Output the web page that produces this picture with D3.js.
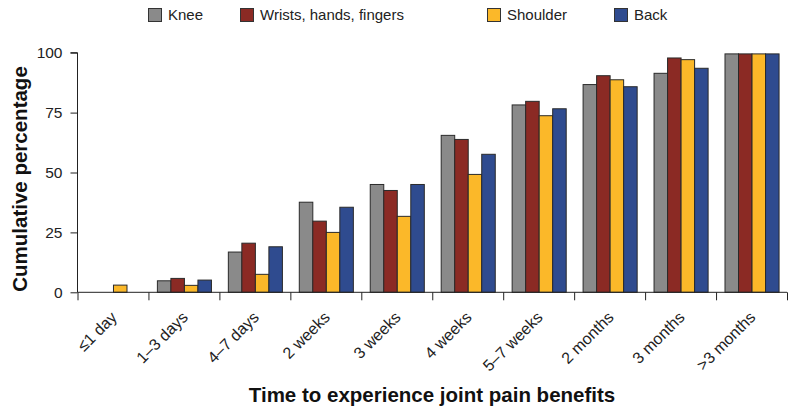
<!DOCTYPE html>
<html><head><meta charset="utf-8">
<script src="https://cdn.jsdelivr.net/npm/d3@7"></script>
<style>body{margin:0;background:#fff}svg{display:block}text{font-family:"Liberation Sans",Arial,sans-serif}</style>
</head><body>
<svg id="c" width="796" height="414"></svg>
<script>
const categories = ["\u22641 day","1\u20133 days","4\u20137 days","2 weeks","3 weeks","4 weeks","5\u20137 weeks","2 months","3 months",">3 months"];
const seriesNames = ["Knee","Wrists, hands, fingers","Shoulder","Back"];
const knee     = [0, 4.8, 16.8, 37.6, 45.0, 65.5, 78.2, 86.7, 91.4, 99.5];
const wrists   = [0, 5.8, 20.5, 29.7, 42.5, 63.8, 79.7, 90.4, 97.8, 99.5];
const shoulder = [3.0, 2.9, 7.5, 25.0, 31.7, 49.2, 73.7, 88.7, 97.1, 99.5];
const back     = [0, 5.1, 19.0, 35.5, 45.0, 57.6, 76.6, 85.8, 93.5, 99.5];
const yTicks = [0, 25, 50, 75, 100];
const colors = ["#8a8a8a", "#8b2a24", "#fbb829", "#2f4b8f"];

const series = [knee, wrists, shoulder, back];
const svg = d3.select("#c");
const L = 77.5, R = 787, T = 52.7, B = 292.3;

const x = d3.scaleBand().domain(categories).range([L, R]).paddingInner(0.238).paddingOuter(0.119);
const xb = d3.scaleLinear().domain([0, categories.length]).range([L, R]);
const x1 = d3.scaleBand().domain(d3.range(series.length)).range([0, x.bandwidth()]);
const y = d3.scaleLinear().domain([0, 100]).range([B, T]);

// bars
categories.forEach((c, i) => {
  const g = svg.append("g").attr("transform", `translate(${x(c)},0)`);
  series.forEach((s, k) => {
    if (s[i] <= 0) return;
    g.append("rect")
      .attr("x", x1(k) + 0.5).attr("y", y(s[i]))
      .attr("width", x1.bandwidth()).attr("height", B - y(s[i]))
      .attr("fill", colors[k]).attr("stroke", "#2a2a2a").attr("stroke-width", 1);
  });
});

// y axis
const ya = svg.append("g").attr("transform", `translate(${L},0)`)
  .call(d3.axisLeft(y).tickValues(yTicks).tickSize(7).tickPadding(8));
ya.select(".domain").attr("stroke", "#222").attr("d", `M-7,${y(100)}H0V${B}`);
ya.selectAll(".tick line").attr("stroke", "#222");
ya.selectAll(".tick text").attr("font-size", 15.5).attr("fill", "#222").attr("font-family", "Liberation Sans, Arial, sans-serif");

// x axis (ticks at category boundaries)
const xa = svg.append("g").attr("transform", `translate(0,${B})`)
  .call(d3.axisBottom(xb).tickValues(d3.range(categories.length + 1)).tickSize(8).tickFormat(""));
xa.select(".domain").attr("stroke", "#222").attr("d", `M${L},0H${R}`);
xa.selectAll(".tick line").attr("stroke", "#222");

// category labels
svg.append("g").selectAll("text").data(categories).join("text")
  .attr("transform", d => `translate(${x(d) + x.bandwidth() / 2 + 1},${B + 22}) rotate(-45)`)
  .attr("text-anchor", "end").attr("dy", "0.35em")
  .attr("font-size", 16).attr("fill", "#222").text(d => d);

// axis titles
svg.append("text").attr("transform", `translate(20,179) rotate(-90)`)
  .attr("text-anchor", "middle").attr("dy", "0.35em")
  .attr("font-size", 20.5).attr("font-weight", "bold").attr("fill", "#111").text("Cumulative percentage");
svg.append("text").attr("x", 432).attr("y", 402).attr("text-anchor", "middle")
  .attr("font-size", 20.5).attr("font-weight", "bold").attr("fill", "#111").text("Time to experience joint pain benefits");

// legend
const legX = [148, 240, 487, 614];
const leg = svg.append("g");
seriesNames.forEach((n, k) => {
  leg.append("rect").attr("x", legX[k] + 0.5).attr("y", 8.5).attr("width", 13).attr("height", 13)
    .attr("fill", colors[k]).attr("stroke", "#333").attr("stroke-width", 1);
  leg.append("text").attr("x", legX[k] + 20).attr("y", 15).attr("dy", "0.35em")
    .attr("font-size", 15).attr("fill", "#222").text(n);
});
</script>
</body></html>
